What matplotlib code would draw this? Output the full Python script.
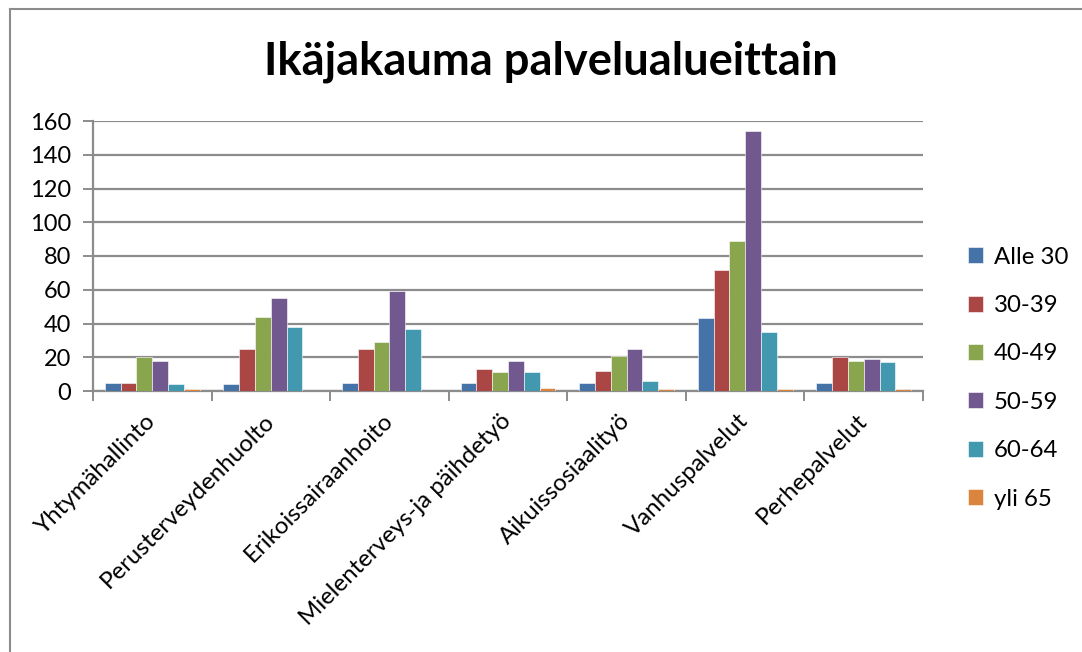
import matplotlib
matplotlib.use("Agg")
import matplotlib.pyplot as plt
import numpy as np

categories = ["Yhtymähallinto", "Perusterveydenhuolto", "Erikoissairaanhoito",
              "Mielenterveys-ja päihdetyö", "Aikuissosiaalityö", "Vanhuspalvelut",
              "Perhepalvelut"]
series_names = ["Alle 30", "30-39", "40-49", "50-59", "60-64", "yli 65"]
alle30 = [5, 4, 5, 5, 5, 43, 5]
v30_39 = [5, 25, 25, 13, 12, 72, 20]
v40_49 = [20, 44, 29, 11, 21, 89, 18]
v50_59 = [18, 55, 59, 18, 25, 154, 19]
v60_64 = [4, 38, 37, 11, 6, 35, 17]
yli65 = [1, 0, 0, 2, 1, 1, 1]
series = [alle30, v30_39, v40_49, v50_59, v60_64, yli65]
colors = ["#4572A7", "#AA4643", "#89A54E", "#71588F", "#4198AF", "#DB843D"]
yticks = [0, 20, 40, 60, 80, 100, 120, 140, 160]

plt.rcParams['font.family'] = ['Lato', 'DejaVu Sans']

W, H = 1082, 652
fig = plt.figure(figsize=(W / 100, H / 100), dpi=100)
ax = fig.add_axes([93 / W, 1 - 391 / H, (923 - 93) / W, (391 - 121) / H])

n = len(series)
bw = 0.8 / n
x = np.arange(len(categories))
for i, (vals, c, name) in enumerate(zip(series, colors, series_names)):
    ax.bar(x - 0.4 + bw * (i + 0.5), vals, width=bw, color=c, label=name,
           edgecolor="white", linewidth=0.4, zorder=3)

ax.set_xlim(-0.5, len(categories) - 0.5)
ax.set_ylim(0, 160)
ax.set_yticks(yticks)
ax.set_yticklabels([str(t) for t in yticks], fontsize=17)
ax.yaxis.grid(True, color="#8c8c8c", linewidth=1.6, zorder=0)
ax.set_axisbelow(True)
for s in ["top", "right"]:
    ax.spines[s].set_visible(False)
for s in ["left", "bottom"]:
    ax.spines[s].set_color("#8c8c8c")
    ax.spines[s].set_linewidth(1.6)
ax.tick_params(axis="y", length=7, width=1.4, color="#8c8c8c", pad=9)

# category boundary ticks on x
ax.set_xticks(np.arange(len(categories) + 1) - 0.5, minor=False)
ax.set_xticklabels([])
ax.tick_params(axis="x", length=7, width=1.4, color="#8c8c8c")
for xi, lab in zip(x, categories):
    ax.annotate(lab, xy=(xi, 0), xycoords=("data", "axes fraction"),
                xytext=(0, -19), textcoords="offset points",
                rotation=45, rotation_mode="anchor", ha="right", va="center",
                fontsize=17.3)

fig.text(551 / W, 1 - 62 / H, "Ikäjakauma palvelualueittain", ha="center",
         va="center", fontsize=32.6, fontweight="bold")

leg = fig.legend(loc="upper left", bbox_to_anchor=(958 / W, 1 - 237 / H),
                 frameon=False, fontsize=17.3, handlelength=0.65, handleheight=0.65,
                 handletextpad=0.45, labelspacing=1.14, borderaxespad=0)

# outer chart border (left/top visible)
fig.add_artist(plt.Line2D([10 / W, 10 / W], [0, 1 - 9 / H], color="#8c8c8c",
                          linewidth=1.5, transform=fig.transFigure))
fig.add_artist(plt.Line2D([10 / W, 1], [1 - 9 / H, 1 - 9 / H], color="#8c8c8c",
                          linewidth=1.5, transform=fig.transFigure))

fig.savefig("out.png", dpi=100)
